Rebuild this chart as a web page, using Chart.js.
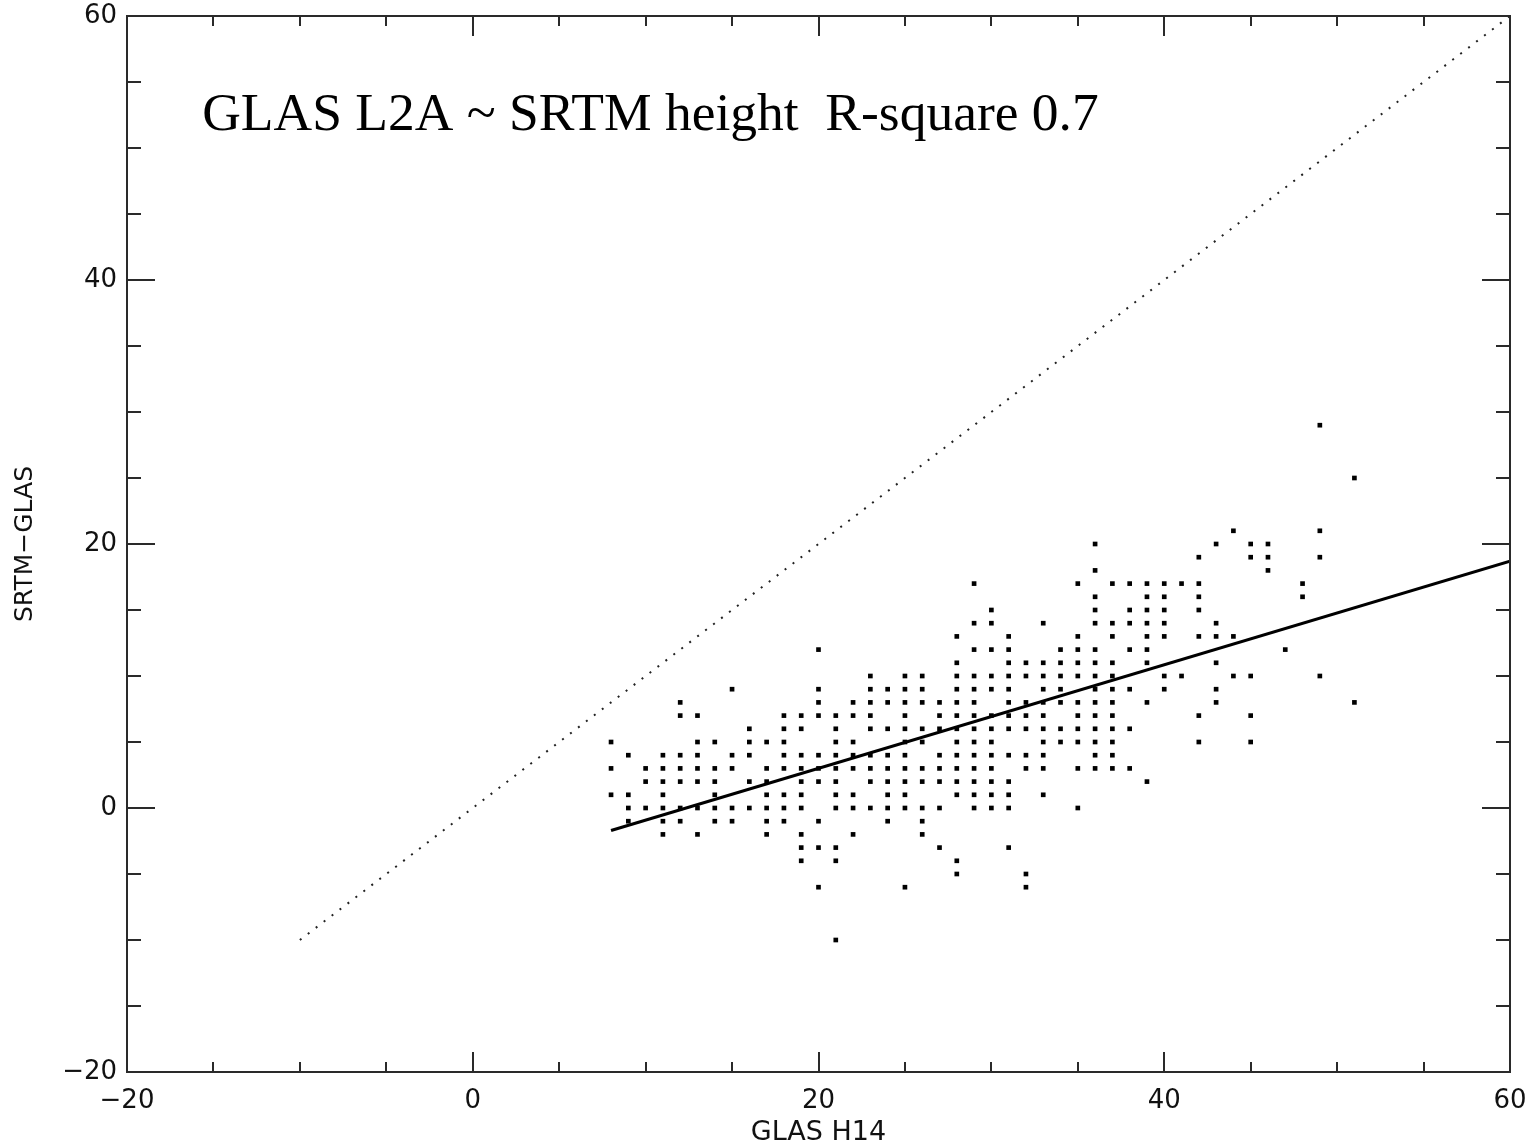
<!DOCTYPE html>
<html>
<head>
<meta charset="utf-8">
<script src="https://cdn.jsdelivr.net/npm/chart.js@4.4.1/dist/chart.umd.min.js"></script>
<style>
  html, body { margin: 0; padding: 0; background: #fff; }
  #wrap { width: 1528px; height: 1147px; position: relative; }
</style>
</head>
<body>
<div id="wrap"><canvas id="glas__canvas-chart"></canvas></div>
<script>
// GLAS H14 vs SRTM-GLAS scatter, regression line and 1:1 line
//==============================================================

// x values (GLAS H14) and, for each x, the SRTM-GLAS values
const glasH14 = [8, 9, 10, 11, 12, 13, 14, 15, 16, 17, 18, 19, 20, 21, 22, 23, 24, 25, 26, 27, 28, 29,
	30, 31, 32, 33, 34, 35, 36, 37, 38, 39, 40, 41, 42, 43, 44, 45, 46, 47, 48, 49, 51];
const srtmMinusGlas = [
	[5, 3, 1],
	[4, 1, 0, -1],
	[3, 2, 0],
	[4, 3, 2, 1, 0, -1, -2],
	[8, 7, 4, 3, 2, 0, -1],
	[7, 5, 4, 3, 2, 0, -2],
	[5, 3, 2, 1, 0, -1],
	[9, 4, 3, 0, -1],
	[6, 5, 4, 2, 0],
	[5, 3, 2, 1, 0, -1, -2],
	[7, 6, 5, 4, 3, 1, 0, -1],
	[7, 6, 4, 3, 2, 1, 0, -2, -3, -4],
	[12, 9, 8, 7, 4, 3, 2, -1, -3, -6],
	[7, 6, 5, 4, 3, 2, 1, 0, -3, -4, -10],
	[8, 7, 5, 4, 3, 1, 0, -2],
	[10, 9, 8, 7, 6, 4, 3, 2, 0],
	[9, 8, 6, 4, 3, 2, 1, 0, -1],
	[10, 9, 8, 7, 6, 5, 4, 3, 2, 1, 0, -6],
	[10, 9, 8, 6, 5, 3, 2, 0, -1, -2],
	[8, 7, 6, 4, 3, 2, 0, -3],
	[13, 11, 10, 9, 8, 7, 6, 5, 4, 3, 2, 1, -4, -5],
	[17, 14, 12, 10, 9, 8, 7, 6, 5, 4, 3, 2, 1, 0],
	[15, 14, 12, 10, 9, 7, 6, 5, 4, 3, 2, 1, 0],
	[13, 12, 11, 10, 9, 8, 7, 6, 4, 2, 1, 0, -3],
	[11, 10, 8, 7, 6, 4, 3, -5, -6],
	[14, 11, 10, 9, 8, 7, 6, 5, 4, 3, 1],
	[12, 11, 10, 9, 8, 6, 5],
	[17, 13, 12, 11, 10, 8, 7, 6, 5, 3, 0],
	[20, 18, 16, 15, 14, 12, 11, 10, 9, 8, 7, 6, 5, 4, 3],
	[17, 14, 13, 11, 10, 9, 8, 7, 6, 5, 4, 3],
	[17, 15, 14, 12, 9, 6, 3],
	[17, 16, 15, 14, 13, 12, 11, 8, 2],
	[17, 16, 15, 14, 13, 10, 9],
	[17, 10],
	[19, 17, 16, 15, 13, 7, 5],
	[20, 14, 13, 11, 9, 8],
	[21, 13, 10],
	[20, 19, 10, 7, 5],
	[20, 19, 18],
	[12],
	[17, 16],
	[29, 21, 19, 10],
	[25, 8]
];

// fitted line (end points) and the 1:1 reference line
const fitX = [8, 60];
const fitY = [-1.7, 18.7];
const oneToOneX = [-10, 60];
const oneToOneY = [-10, 60];

const axisMin = -20, axisMax = 60, tickStep = 5, labelStep = 20;
const titleText = 'GLAS L2A ~ SRTM height  R-square 0.7';
const titleAt = [-15.65, 51.4]; // data coords of text start / baseline

let scatterPoints = [];
glasH14.forEach((gx, i) => {
	srtmMinusGlas[i].forEach(v => {
		scatterPoints = [...scatterPoints, {x: gx, y: v}];
	});
});
const toXY = (xs, ys) => xs.map((v, i) => ({x: v, y: ys[i]}));

function tickLabel(value) {
	if (value % labelStep !== 0) return '';
	return value < 0 ? '\u2212' + Math.abs(value) : String(value);
}

// IDL style frame: box all round, ticks pointing inward on all four sides
const frameTicks = {
	id: 'frameTicks',
	afterDatasetsDraw(chart) {
		const {ctx, chartArea: a, scales: {x, y}} = chart;
		ctx.save();
		ctx.strokeStyle = '#2a2a2a';
		ctx.lineWidth = 2;
		ctx.strokeRect(a.left, a.top, a.right - a.left, a.bottom - a.top);
		ctx.beginPath();
		x.ticks.forEach(t => {
			let px = Math.round(x.getPixelForValue(t.value)),
				len = t.value % labelStep === 0 ? 20 : 10;
			ctx.moveTo(px, a.bottom); ctx.lineTo(px, a.bottom - len);
			ctx.moveTo(px, a.top); ctx.lineTo(px, a.top + len);
		});
		y.ticks.forEach(t => {
			let py = Math.round(y.getPixelForValue(t.value)),
				len = t.value % labelStep === 0 ? 28 : 14;
			ctx.moveTo(a.left, py); ctx.lineTo(a.left + len, py);
			ctx.moveTo(a.right, py); ctx.lineTo(a.right - len, py);
		});
		ctx.stroke();

		ctx.fillStyle = '#000';
		ctx.font = '53.5px "Liberation Serif"';
		ctx.textAlign = 'left';
		ctx.textBaseline = 'alphabetic';
		ctx.fillText(titleText, x.getPixelForValue(titleAt[0]), y.getPixelForValue(titleAt[1]));
		ctx.restore();
	}
};

let ctx = document.getElementById('glas__canvas-chart').getContext('2d');
let chart = new Chart(ctx, {
	type: 'scatter',
	data: {
		datasets: [{
			label: 'points',
			data: scatterPoints,
			pointStyle: 'rect',
			pointRadius: 3.3,
			backgroundColor: '#000',
			borderWidth: 0,
			order: 1
		}, {
			label: 'fit',
			type: 'line',
			data: toXY(fitX, fitY),
			borderColor: '#000',
			borderWidth: 3,
			pointRadius: 0,
			fill: false,
			order: 2
		}, {
			label: '1:1',
			type: 'line',
			data: toXY(oneToOneX, oneToOneY),
			borderColor: '#222',
			borderWidth: 2,
			borderDash: [2, 8],
			pointRadius: 0,
			fill: false,
			order: 3
		}]
	},
	options: {
		responsive: true,
		maintainAspectRatio: false,
		animation: false,
		layout: {padding: {top: 16, right: 18, left: 0, bottom: 0}},
		plugins: {
			legend: {display: false},
			tooltip: {enabled: false}
		},
		scales: {
			x: {
				type: 'linear',
				min: axisMin,
				max: axisMax,
				grid: {display: false, drawTicks: false},
				border: {display: false},
				ticks: {
					stepSize: tickStep,
					autoSkip: false,
					maxRotation: 0,
					padding: 14,
					color: '#111',
					font: {family: 'DejaVu Sans', size: 26},
					callback: tickLabel
				},
				title: {
					display: true,
					text: 'GLAS H14',
					color: '#111',
					font: {family: 'DejaVu Sans', size: 27, lineHeight: 1},
					padding: {top: 0, bottom: 1}
				},
				afterFit: scale => {
					scale.height = 75;
					scale.paddingLeft = 0;
					scale.paddingRight = 0;
				}
			},
			y: {
				type: 'linear',
				min: axisMin,
				max: axisMax,
				grid: {display: false, drawTicks: false},
				border: {display: false},
				ticks: {
					stepSize: tickStep,
					autoSkip: false,
					padding: 10,
					color: '#111',
					font: {family: 'DejaVu Sans', size: 26},
					callback: tickLabel
				},
				title: {
					display: true,
					text: 'SRTM\u2212GLAS',
					color: '#111',
					font: {family: 'DejaVu Sans', size: 25},
					padding: {top: 10, bottom: 0}
				},
				afterFit: scale => {
					scale.width = 127;
					scale.paddingTop = 0;
					scale.paddingBottom = 0;
				}
			}
		}
	},
	plugins: [frameTicks]
});
</script>
</body>
</html>
